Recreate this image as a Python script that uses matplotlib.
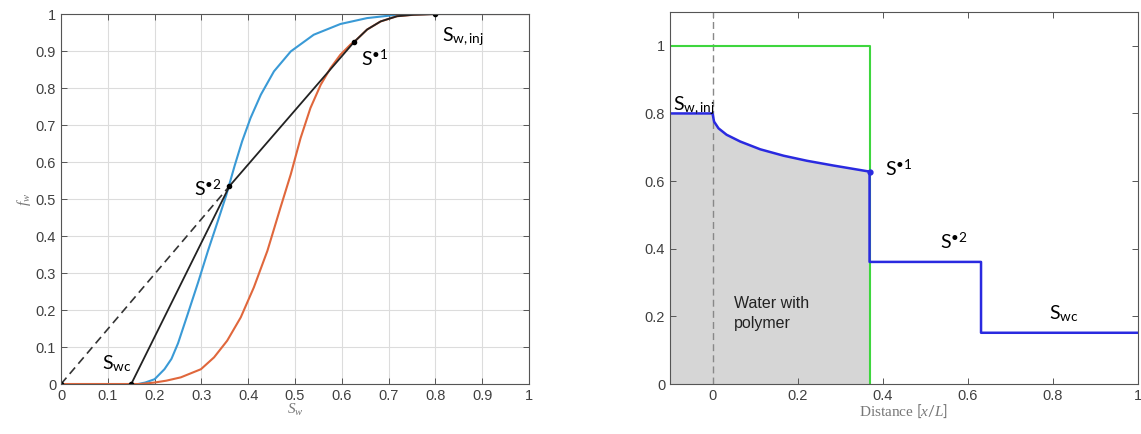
import matplotlib
matplotlib.use("Agg")
import matplotlib.pyplot as plt
import numpy as np

plt.rcParams['font.family'] = ['Liberation Sans', 'DejaVu Sans']
plt.rcParams['mathtext.fontset'] = 'custom'
plt.rcParams['mathtext.rm'] = 'Lato'
plt.rcParams['mathtext.it'] = 'Liberation Serif:italic'
plt.rcParams['mathtext.bf'] = 'Lato:bold'

# ---------------- Left: fractional flow curves ----------------
sw_blue = [0.165, 0.18, 0.20, 0.221, 0.236, 0.25, 0.271, 0.293, 0.314, 0.335, 0.353,
           0.371, 0.387, 0.405, 0.427, 0.455, 0.491, 0.54, 0.597, 0.654, 0.711,
           0.76, 0.8, 1.0]
fw_blue = [0.0, 0.004, 0.013, 0.04, 0.068, 0.11, 0.19, 0.275, 0.36, 0.44, 0.51,
           0.59, 0.656, 0.719, 0.782, 0.845, 0.899, 0.944, 0.973, 0.989, 0.997,
           0.999, 1.0, 1.0]

sw_orange = [0.0, 0.17, 0.20, 0.225, 0.256, 0.299, 0.327, 0.355, 0.384, 0.412, 0.441,
             0.469, 0.491, 0.512, 0.533, 0.555, 0.576, 0.597, 0.619, 0.626, 0.654,
             0.683, 0.718, 0.754, 0.8, 1.0]
fw_orange = [0.0, 0.0, 0.004, 0.009, 0.018, 0.04, 0.072, 0.117, 0.18, 0.261, 0.36,
             0.477, 0.567, 0.665, 0.746, 0.809, 0.854, 0.89, 0.918, 0.924, 0.958,
             0.98, 0.994, 0.998, 1.0, 1.0]

sw_black = [0.15, 0.36, 0.626, 0.654, 0.683, 0.718, 0.754, 0.8]
fw_black = [0.0, 0.535, 0.924, 0.958, 0.98, 0.994, 0.998, 1.0]
sw_dash = [0.0, 0.36]
fw_dash = [0.0, 0.535]
sw_pts = [0.0, 0.15, 0.36, 0.626, 0.8]
fw_pts = [0.0, 0.0, 0.535, 0.924, 1.0]

# ---------------- Right: saturation profile ----------------
x_fill = [-0.1, 0.0, 0.0035, 0.014, 0.033, 0.065, 0.112, 0.167, 0.222, 0.284, 0.369]
s_fill = [0.8, 0.8, 0.776, 0.756, 0.737, 0.717, 0.694, 0.675, 0.66, 0.646, 0.628]
x_prof = x_fill + [0.369, 0.631, 0.631, 1.0]
s_prof = s_fill + [0.361, 0.361, 0.1515, 0.1515]
x_conc = [-0.1, 0.369, 0.369]
c_conc = [1.0, 1.0, 0.0]

fig = plt.figure(figsize=(11.41, 4.34), dpi=100)
ax1 = fig.add_axes([0.0535, 0.1152, 0.4101, 0.8525])
ax2 = fig.add_axes([0.5872, 0.1152, 0.4102, 0.8572])

tick_col = '#404040'
spine_col = '#555555'
blue_c = '#3a9ad6'
orange_c = '#e0673c'

# Left axis
ax1.grid(True, color='#dcdcdc', linewidth=0.8)
ax1.set_axisbelow(True)
ax1.plot(sw_blue, fw_blue, color=blue_c, lw=1.5)
ax1.plot(sw_orange, fw_orange, color=orange_c, lw=1.5)
ax1.plot(sw_dash, fw_dash, color='#333333', lw=1.2, ls=(0, (5, 3)))
ax1.plot(sw_black, fw_black, color='#222222', lw=1.3)
ax1.plot(sw_pts, fw_pts, 'o', color='black', ms=3)
ax1.set_xlim(0, 1)
ax1.set_ylim(0, 1)
ax1.set_xticks(np.arange(0, 1.01, 0.1))
ax1.set_yticks(np.arange(0, 1.01, 0.1))
ax1.set_xticklabels(['0', '0.1', '0.2', '0.3', '0.4', '0.5', '0.6', '0.7', '0.8', '0.9', '1'])
ax1.set_yticklabels(['0', '0.1', '0.2', '0.3', '0.4', '0.5', '0.6', '0.7', '0.8', '0.9', '1'])
ax1.set_xlabel(r'$S_w$', color='#777777', fontsize=11, labelpad=-1)
ax1.set_ylabel(r'$f_w$', color='#777777', fontsize=11, labelpad=2)

lab_kw = dict(fontsize=14, family='Lato', color='black')
ax1.text(0.088, 0.04, r'S$_{\mathregular{wc}}$', **lab_kw)
ax1.text(0.285, 0.51, r'S$^{\mathregular{•2}}$', **lab_kw)
ax1.text(0.64, 0.86, r'S$^{\mathregular{•1}}$', **lab_kw)
ax1.text(0.815, 0.925, r'S$_{\mathregular{w,inj}}$', **lab_kw)

# Right axis
ax2.fill_between(x_fill, 0, s_fill, color='#d6d6d6', lw=0)
ax2.plot([0, 0], [0, 1.1], color='#888888', lw=1.0, ls=(0, (5, 3)))
ax2.plot(x_conc, c_conc, color='#3ed63e', lw=1.5)
ax2.plot(x_prof, s_prof, color='#2a2ae0', lw=1.8)
ax2.plot([0.369], [0.628], 'o', color='#2a2ae0', ms=3.5)
ax2.set_xlim(-0.1, 1.0)
ax2.set_ylim(0, 1.1)
ax2.set_xticks([0, 0.2, 0.4, 0.6, 0.8, 1.0])
ax2.set_xticklabels(['0', '0.2', '0.4', '0.6', '0.8', '1'])
ax2.set_yticks([0, 0.2, 0.4, 0.6, 0.8, 1.0])
ax2.set_yticklabels(['0', '0.2', '0.4', '0.6', '0.8', '1'])
ax2.set_xlabel(r'Distance $[x/L]$', color='#777777', fontsize=11,
               family='Liberation Serif', labelpad=0)

ax2.text(-0.094, 0.81, r'S$_{\mathregular{w,inj}}$', **lab_kw)
ax2.text(0.405, 0.615, r'S$^{\mathregular{•1}}$', **lab_kw)
ax2.text(0.535, 0.40, r'S$^{\mathregular{•2}}$', **lab_kw)
ax2.text(0.79, 0.19, r'S$_{\mathregular{wc}}$', **lab_kw)
ax2.text(0.05, 0.165, 'Water with\npolymer', fontsize=11.5, family='Liberation Sans',
         color='#222222', linespacing=1.4)

for ax in (ax1, ax2):
    for s in ax.spines.values():
        s.set_color(spine_col)
        s.set_linewidth(0.8)
    ax.tick_params(direction='in', top=True, right=True, length=4, width=0.7,
                   color=spine_col, labelcolor=tick_col, labelsize=10.5)

fig.savefig('out.png', dpi=100)
